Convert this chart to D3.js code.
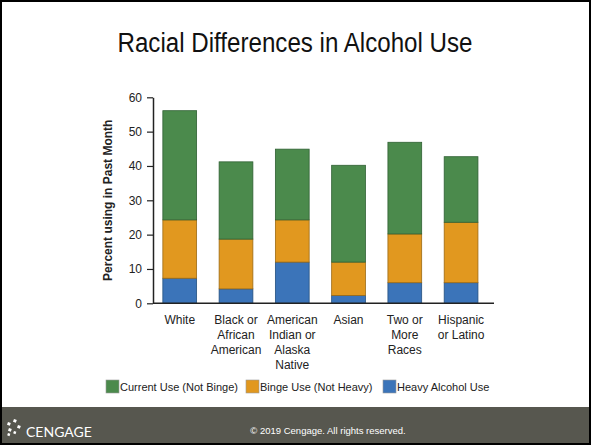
<!DOCTYPE html>
<html>
<head>
<meta charset="utf-8">
<script src="https://cdn.jsdelivr.net/npm/d3@7"></script>
<style>
  body { margin: 0; background: #fff; }
  svg { display: block; font-family: "Liberation Sans", Arial, sans-serif; }
</style>
</head>
<body>
<div id="chartDiv"></div>
<script>
// data
const groups = ["White", "Black or African American", "American Indian or Alaska Native", "Asian", "Two or More Races", "Hispanic or Latino"];
const groupLines = [["White"], ["Black or", "African", "American"], ["American", "Indian or", "Alaska", "Native"], ["Asian"], ["Two or", "More", "Races"], ["Hispanic", "or Latino"]];
const heavyUse = [7.3, 4.2, 12.0, 2.3, 6.0, 6.0];
const bingeUse = [17.0, 14.5, 12.3, 9.7, 14.2, 17.6];
const currentUse = [31.8, 22.5, 20.6, 28.2, 26.7, 19.1];
const seriesKeys = ["heavy", "binge", "current"];
const seriesNames = ["Heavy Alcohol Use", "Binge Use (Not Heavy)", "Current Use (Not Binge)"];
const yTicks = [0, 10, 20, 30, 40, 50, 60];

const W = 591, H = 445;
const colors = { current: "#4b8a4c", binge: "#e1981f", heavy: "#3b74b9" };
const strokes = { current: "#2f6033", binge: "#9c6a14", heavy: "#24507f" };

const rows = groups.map((g, i) => ({ group: g, heavy: heavyUse[i], binge: bingeUse[i], current: currentUse[i] }));
const stacked = d3.stack().keys(seriesKeys)(rows);

const svg = d3.select("#chartDiv").append("svg").attr("width", W).attr("height", H);

// slide frame + footer
svg.append("rect").attr("x", 1).attr("y", 1).attr("width", W - 2).attr("height", H - 2)
  .attr("fill", "#fff").attr("stroke", "#000").attr("stroke-width", 2);
svg.append("rect").attr("x", 2).attr("y", 407).attr("width", W - 4).attr("height", 36).attr("fill", "#57574f");

svg.append("text").attr("x", 295).attr("y", 52).attr("text-anchor", "middle")
  .attr("font-size", 27).attr("fill", "#111")
  .attr("font-family", "'Liberation Sans Narrow', 'Arial Narrow', 'Liberation Sans', sans-serif")
  .attr("textLength", 355).attr("lengthAdjust", "spacingAndGlyphs")
  .text("Racial Differences in Alcohol Use");

const x = d3.scaleBand().domain(groups).range([151.6, 489.2]).paddingInner(0.4).paddingOuter(0.2);
const y = d3.scaleLinear().domain([0, 60]).range([303.3, 97.3]);

const g = svg.append("g");

g.selectAll("g.layer").data(stacked).join("g")
  .attr("class", "layer")
  .attr("fill", d => colors[d.key])
  .attr("stroke", d => strokes[d.key])
  .attr("stroke-width", 0.8)
  .selectAll("rect").data(d => d).join("rect")
  .attr("x", d => x(d.data.group))
  .attr("width", x.bandwidth())
  .attr("y", d => y(d[1]))
  .attr("height", d => y(d[0]) - y(d[1]));

// y axis
const yAxis = g.append("g").attr("transform", "translate(153,0)")
  .call(d3.axisLeft(y).tickValues(yTicks).tickSize(6).tickPadding(5).tickSizeOuter(0));
yAxis.select(".domain").attr("stroke", "#222").attr("stroke-width", 1.5);
yAxis.selectAll(".tick line").attr("stroke", "#222").attr("stroke-width", 1.2);
yAxis.selectAll("text").attr("font-size", 12).attr("fill", "#222").attr("font-family", "Liberation Sans, Arial, sans-serif");

// x baseline
g.append("line").attr("x1", 153).attr("x2", 494).attr("y1", y(0)).attr("y2", y(0))
  .attr("stroke", "#222").attr("stroke-width", 1.5);

svg.append("text")
  .attr("transform", `translate(112,${y(30)}) rotate(-90)`)
  .attr("text-anchor", "middle").attr("font-size", 12).attr("font-weight", "bold").attr("fill", "#222")
  .text("Percent using in Past Month");

// category labels
const lab = g.selectAll("text.cat").data(groups).join("text")
  .attr("class", "cat").attr("text-anchor", "middle").attr("font-size", 12).attr("fill", "#222")
  .attr("y", 324);
lab.selectAll("tspan").data((d, i) => groupLines[i].map(t => ({ t, c: x(d) + x.bandwidth() / 2 })))
  .join("tspan").attr("x", d => d.c).attr("dy", (d, i) => i === 0 ? 0 : 15).text(d => d.t);

// legend
const legendOrder = ["current", "binge", "heavy"];
const legendX = [106, 246, 383];
const leg = svg.selectAll("g.leg").data(legendOrder).join("g").attr("class", "leg")
  .attr("transform", (d, i) => `translate(${legendX[i]},380)`);
leg.append("rect").attr("width", 13).attr("height", 13)
  .attr("fill", d => colors[d]).attr("stroke", "#999").attr("stroke-width", 0.6);
leg.append("text").attr("x", 14).attr("y", 11).attr("font-size", 11).attr("fill", "#222")
  .text(d => seriesNames[seriesKeys.indexOf(d)]);

// footer text
const logo = svg.append("g").attr("transform", "translate(6,425)").attr("fill", "#fff");
[[2, -3, 3, 3], [8, -6, 3, 3], [3, 3, 3, 3], [12, 0, 3, 3], [8, 6, 2.5, 2.5], [2, 8, 2.5, 2.5]].forEach(r => {
  logo.append("rect").attr("x", r[0]).attr("y", r[1]).attr("width", r[2]).attr("height", r[3])
    .attr("transform", `rotate(20,${r[0]},${r[1]})`);
});
svg.append("text").attr("x", 26).attr("y", 437).attr("font-size", 14).attr("fill", "#fff")
  .attr("font-family", "Lato, 'Open Sans', sans-serif")
  .text("CENGAGE");
svg.append("text").attr("x", 328).attr("y", 434).attr("text-anchor", "middle")
  .attr("font-size", 9.5).attr("fill", "#fff")
  .text("© 2019 Cengage. All rights reserved.");
</script>
</body>
</html>
